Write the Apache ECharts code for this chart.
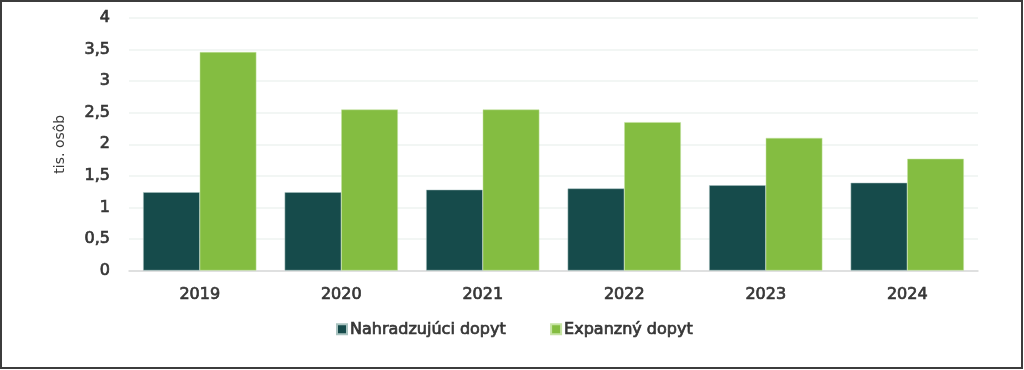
<!DOCTYPE html>
<html><head><meta charset="utf-8">
<script src="https://cdn.jsdelivr.net/npm/echarts@6/dist/echarts.min.js"></script>
<style>html,body{margin:0;padding:0;background:#fff}#c{width:1024px;height:370px}</style>
</head><body><div id="c"></div>
<script>
const categories = ['2019','2020','2021','2022','2023','2024'];
const nahradzujuci = [1.24, 1.24, 1.28, 1.30, 1.35, 1.39];
const expanzny = [3.46, 2.55, 2.55, 2.35, 2.10, 1.77];
const seriesNames = ['Nahradzujúci dopyt', 'Expanzný dopyt'];
const yAxisName = 'tis. osôb';

const chart = echarts.init(document.getElementById('c'));
const font = 'DejaVu Sans';
const txt = {fontFamily: font, fontSize: 16, color: '#363636', textBorderColor: '#363636', textBorderWidth: 0.7};
chart.setOption({
  animation: false,
  graphic: [{type:'rect', shape:{x:1,y:1,width:1021,height:367}, style:{fill:'none', stroke:'#3c3c3c', lineWidth:2}, z:100}],
  grid: {left:129, right:46, top:18, bottom:99.5},
  legend: {
    data: seriesNames, top: 316, left: 331, itemWidth: 10, itemHeight: 10, itemGap: 44,
    icon: 'rect', textStyle: Object.assign({}, txt, {padding: [0,0,0,-2]})
  },
  xAxis: {
    type: 'category', data: categories,
    axisLine: {lineStyle: {color: '#d9d9d9', width: 1.5}},
    axisTick: {show: false},
    axisLabel: Object.assign({}, txt, {margin: 16})
  },
  yAxis: {
    type: 'value', min: 0, max: 4, interval: 0.5,
    name: yAxisName, nameLocation: 'middle', nameGap: 62, nameRotate: 90,
    nameTextStyle: {fontFamily: font, fontSize: 14, color: '#3a3a3a'},
    axisLine: {show: false}, axisTick: {show: false},
    splitLine: {lineStyle: {color: '#eef3f1', width: 1.5}},
    axisLabel: Object.assign({}, txt, {margin: 19,
      formatter: v => String(v).replace('.', ',')})
  },
  series: [
    {name: seriesNames[0], type: 'bar', data: nahradzujuci, barGap: '0%', barCategoryGap: '20%',
     itemStyle: {color: '#164b4b', borderColor: '#a9c3c0', borderWidth: 0.5}},
    {name: seriesNames[1], type: 'bar', data: expanzny,
     itemStyle: {color: '#84bd41', borderColor: '#c5e3a2', borderWidth: 0.5}}
  ]
});
</script></body></html>
